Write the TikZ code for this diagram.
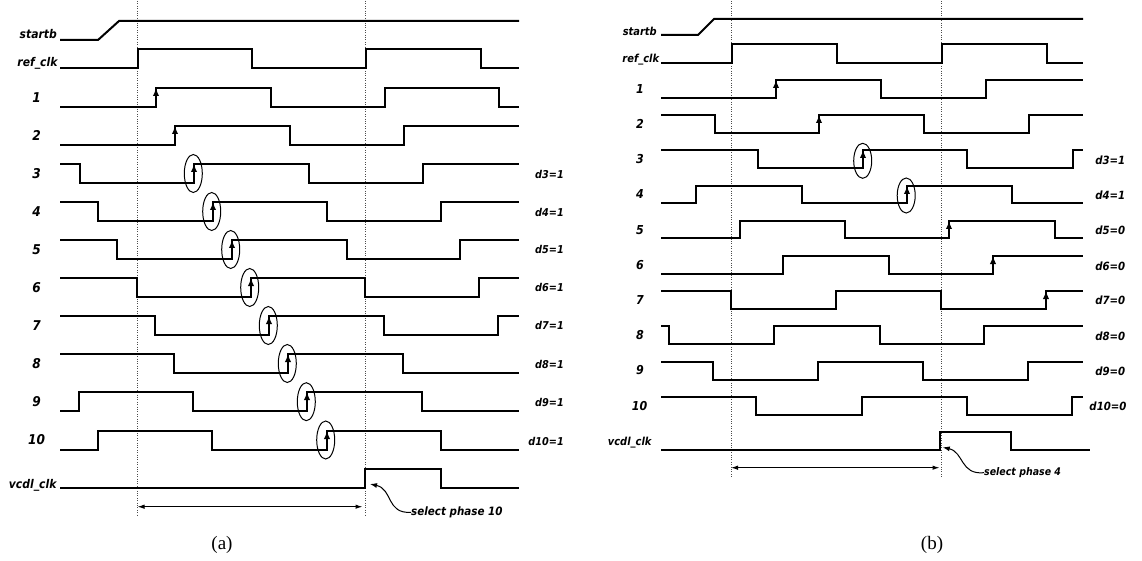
\documentclass[tikz,border=0pt]{standalone}
\usepackage{fontspec}
\setmainfont{Liberation Serif}
\newfontfamily\labfont[FakeStretch=0.9]{DejaVu Sans}
\usetikzlibrary{arrows.meta}
\tikzset{
  sig/.style={line width=2pt, line join=miter},
  edgearr/.style={line width=1.6pt, -{Latex[length=8pt,width=6.5pt]}},
  ring/.style={line width=1pt},
  guide/.style={line width=0.6pt, dash pattern=on 0.8pt off 1.6pt, black!70},
  span/.style={line width=1pt, {Latex[length=7pt,width=4.5pt]}-{Latex[length=7pt,width=4.5pt]}},
  curv/.style={line width=1pt, -{Latex[length=7pt,width=5pt]}},
  lab/.style={font=\labfont\bfseries\itshape\fontsize{12}{12}\selectfont, inner sep=0pt},
  labb/.style={font=\labfont\bfseries\itshape\fontsize{11}{11}\selectfont, inner sep=0pt},
  num/.style={font=\labfont\bfseries\itshape\fontsize{13.5}{13.5}\selectfont, inner sep=0pt},
  numb/.style={font=\labfont\bfseries\itshape\fontsize{12.3}{12.3}\selectfont, inner sep=0pt},
  dlab/.style={font=\labfont\bfseries\itshape\fontsize{10.8}{10.8}\selectfont, inner sep=0pt, anchor=east},
  dlabb/.style={font=\labfont\bfseries\itshape\fontsize{11.3}{11.3}\selectfont, inner sep=0pt, anchor=east},
  note/.style={font=\labfont\bfseries\itshape\fontsize{11.5}{11.5}\selectfont, inner sep=0pt, anchor=west},
  noteb/.style={font=\labfont\bfseries\itshape\fontsize{10.5}{10.5}\selectfont, inner sep=0pt, anchor=west},
  captxt/.style={font=\fontsize{19}{19}\selectfont, inner sep=0pt}
}
\begin{document}
\begin{tikzpicture}[x=1pt,y=-1pt]
\useasboundingbox (0,0) rectangle (1142,561);
% ================= panel (a) =================
\coordinate (ga1t) at (137.5,1); \coordinate (ga1b) at (137.5,515);
\coordinate (ga2t) at (365.5,1); \coordinate (ga2b) at (365.5,515);
\draw[guide] (ga1t) -- (ga1b);
\draw[guide] (ga2t) -- (ga2b);
\node[lab, anchor=base east] (a-startb) at (57,38.3) {startb};
\node[lab, anchor=base east] (a-ref) at (57.7,66.7) {ref\_clk};
\node[num] (a-n1) at (36.5,97.2) {1};
\node[num] (a-n2) at (36.5,135.4) {2};
\node[num] (a-n3) at (36.5,173.5) {3};
\node[num] (a-n4) at (36.5,211.5) {4};
\node[num] (a-n5) at (36.5,249.5) {5};
\node[num] (a-n6) at (36.5,287.5) {6};
\node[num] (a-n7) at (36.5,325.5) {7};
\node[num] (a-n8) at (36.5,363.5) {8};
\node[num] (a-n9) at (36.5,401.7) {9};
\node[num] (a-n10) at (36.5,440) {10};
\node[lab, anchor=base east] (a-vcdl) at (56.7,488) {vcdl\_clk};
\draw[sig] (60,40) -- (98,40) -- (119,21) -- (519,21);
\draw[sig] (60,68) -| (138,49) -| (252,68) -| (366,49) -| (481,68) -- (519,68);
\draw[sig] (60,107) -| (156,88) -| (271,107) -| (385,88) -| (499,107) -- (519,107);
\draw[sig] (60,145) -| (175,126) -| (290,145) -| (404,126) -- (519,126);
\draw[sig] (60,164) -| (80,183) -| (194,164) -| (309,183) -| (423,164) -- (519,164);
\draw[sig] (60,202) -| (98,221) -| (213,202) -| (327,221) -| (441,202) -- (519,202);
\draw[sig] (60,240) -| (117,259) -| (232,240) -| (347,259) -| (460,240) -- (519,240);
\draw[sig] (60,278) -| (137,297) -| (251,278) -| (365,297) -| (479,278) -- (519,278);
\draw[sig] (60,316) -| (155,335) -| (269,316) -| (384,335) -| (498,316) -- (519,316);
\draw[sig] (60,354) -| (174,373) -| (288,354) -| (403,373) -- (519,373);
\draw[sig] (60,411) -| (79,392) -| (193,411) -| (307,392) -| (422,411) -- (519,411);
\draw[sig] (60,450) -| (98,431) -| (212,450) -| (327,431) -| (441,450) -- (519,450);
\draw[sig] (60,488) -| (365,469) -| (441,488) -- (519,488);
\draw[edgearr] (156,107) -- (156,88);
\draw[edgearr] (175,145) -- (175,126);
\draw[edgearr] (194,183) -- (194,164);
\draw[edgearr] (213,221) -- (213,202);
\draw[edgearr] (232,259) -- (232,240);
\draw[edgearr] (251,297) -- (251,278);
\draw[edgearr] (269,335) -- (269,316);
\draw[edgearr] (288,373) -- (288,354);
\draw[edgearr] (307,411) -- (307,392);
\draw[edgearr] (327,450) -- (327,431);
\foreach \x/\y in {193.3/173.5, 211.7/211.5, 230.7/249.5, 249.7/287.5, 268.3/325.5, 287.3/363.5, 306.3/401.7, 325.7/440}
  \draw[ring] (\x,\y) ellipse [x radius=9pt, y radius=19pt];
\node[dlab] (a-d3) at (564,174) {d3=1};
\node[dlab] (a-d4) at (564,212.3) {d4=1};
\node[dlab] (a-d5) at (564,249.3) {d5=1};
\node[dlab] (a-d6) at (564,287.3) {d6=1};
\node[dlab] (a-d7) at (564,325.7) {d7=1};
\node[dlab] (a-d8) at (564,364.3) {d8=1};
\node[dlab] (a-d9) at (564,402.7) {d9=1};
\node[dlab] (a-d10) at (564,441.7) {d10=1};
\coordinate (sa1) at (137.5,506.7); \coordinate (sa2) at (362.5,506.7);
\draw[span] (sa1) -- (sa2);
\node[note] (a-sel) at (411,512.3) {select phase 10};
\coordinate (a-tip) at (370,484);
\draw[curv] (a-sel.west) .. controls (386,514) and (393,489) .. (a-tip);
\node[captxt] (a-cap) at (222,545) {(a)};
% ================= panel (b) =================
\coordinate (gb1t) at (731.5,1); \coordinate (gb1b) at (731.5,477);
\coordinate (gb2t) at (941.5,1); \coordinate (gb2b) at (941.5,477);
\draw[guide] (gb1t) -- (gb1b);
\draw[guide] (gb2t) -- (gb2b);
\node[labb, anchor=base east] (b-startb) at (657,35.7) {startb};
\node[labb, anchor=base east] (b-ref) at (659.3,62.7) {ref\_clk};
\node[numb] (b-n1) at (640,88.9) {1};
\node[numb] (b-n2) at (640,124.1) {2};
\node[numb] (b-n3) at (640,159.5) {3};
\node[numb] (b-n4) at (640,194.5) {4};
\node[numb] (b-n5) at (640,229.7) {5};
\node[numb] (b-n6) at (640,264.9) {6};
\node[numb] (b-n7) at (640,300.1) {7};
\node[numb] (b-n8) at (640,335.3) {8};
\node[numb] (b-n9) at (640,370.5) {9};
\node[numb] (b-n10) at (639.5,405.7) {10};
\node[labb, anchor=base east] (b-vcdl) at (651.7,445) {vcdl\_clk};
\draw[sig] (661,35) -- (698,35) -- (714,19) -- (1083,19);
\draw[sig] (661,63) -| (732,44) -| (837,63) -| (942,44) -| (1047,63) -- (1083,63);
\draw[sig] (661,98) -| (776,80) -| (881,98) -| (986,80) -- (1083,80);
\draw[sig] (661,115) -| (715,133) -| (819,115) -| (924,133) -| (1029,115) -- (1083,115);
\draw[sig] (661,150) -| (758,168) -| (863,150) -| (967,168) -| (1073,150) -- (1083,150);
\draw[sig] (661,203) -| (696,186) -| (802,203) -| (907,186) -| (1012,203) -- (1083,203);
\draw[sig] (661,238) -| (740,221) -| (845,238) -| (949,221) -| (1055,238) -- (1083,238);
\draw[sig] (661,274) -| (783,256) -| (889,274) -| (993,256) -- (1083,256);
\draw[sig] (661,291) -| (731,309) -| (836,291) -| (941,309) -| (1046,291) -- (1083,291);
\draw[sig] (661,326) -| (669,344) -| (774,326) -| (880,344) -| (984,326) -- (1083,326);
\draw[sig] (661,362) -| (713,380) -| (818,362) -| (923,380) -| (1028,362) -- (1083,362);
\draw[sig] (661,397) -| (756,415) -| (862,397) -| (967,415) -| (1072,397) -- (1083,397);
\draw[sig] (661,450) -| (940,432) -| (1011,450) -- (1090,450);
\draw[edgearr] (776,98) -- (776,80);
\draw[edgearr] (819,133) -- (819,115);
\draw[edgearr] (863,168) -- (863,150);
\draw[edgearr] (907,203) -- (907,186);
\draw[edgearr] (949,238) -- (949,221);
\draw[edgearr] (993,274) -- (993,256);
\draw[edgearr] (1046,309) -- (1046,291);
\draw[ring] (862.7,160.8) ellipse [x radius=9pt, y radius=17.5pt];
\draw[ring] (906.2,195.5) ellipse [x radius=9pt, y radius=17.5pt];
\node[dlabb] (b-d3) at (1125.5,160) {d3=1};
\node[dlabb] (b-d4) at (1125.5,195.7) {d4=1};
\node[dlabb] (b-d5) at (1125.5,230.7) {d5=0};
\node[dlabb] (b-d6) at (1125.5,266) {d6=0};
\node[dlabb] (b-d7) at (1125.5,300.7) {d7=0};
\node[dlabb] (b-d8) at (1125.5,336) {d8=0};
\node[dlabb] (b-d9) at (1125.5,371.5) {d9=0};
\node[dlabb] (b-d10) at (1126.7,406.7) {d10=0};
\coordinate (sb1) at (731,467.7); \coordinate (sb2) at (939.5,467.7);
\draw[span] (sb1) -- (sb2);
\node[noteb] (b-sel) at (984,472.7) {select phase 4};
\coordinate (b-tip) at (942.7,447.3);
\draw[curv] (b-sel.west) .. controls (960,475) and (964,452) .. (b-tip);
\node[captxt] (b-cap) at (932,545) {(b)};
\end{tikzpicture}
\end{document}
